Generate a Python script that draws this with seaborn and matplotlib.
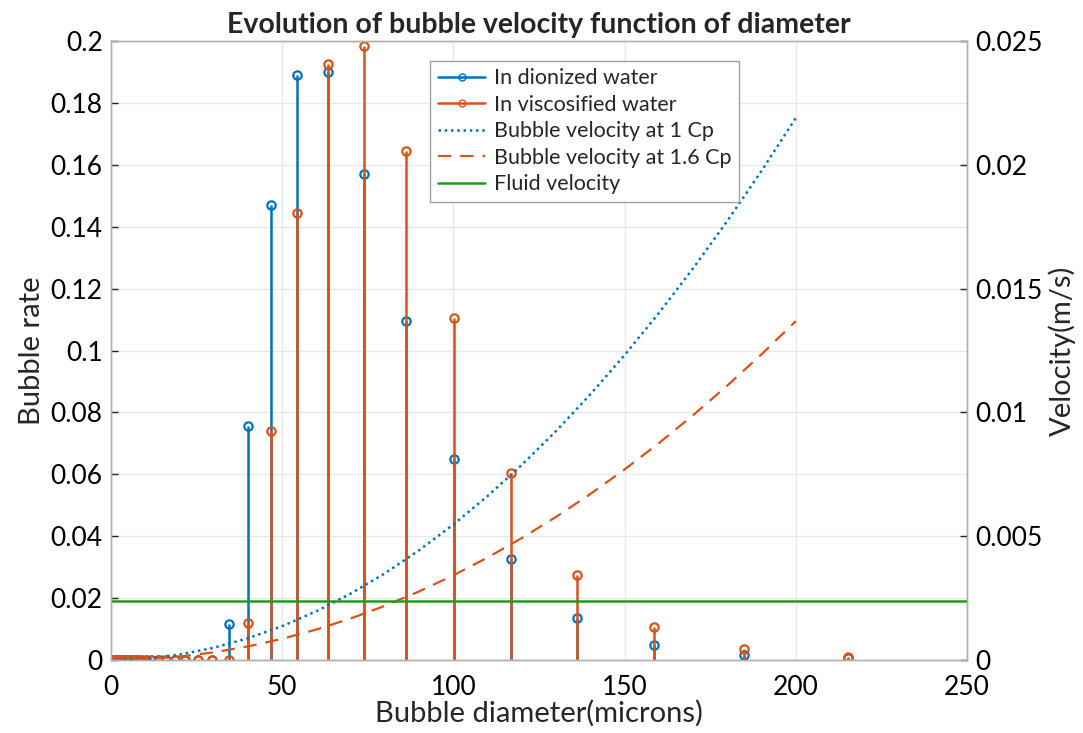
import numpy as np
import pandas as pd
import matplotlib
matplotlib.use("Agg")
import matplotlib.pyplot as plt
import seaborn as sns
from matplotlib.lines import Line2D

# bin centres (microns) and bubble rates
diameter = [0.5, 0.6, 0.7, 0.8, 1.0, 1.2, 1.4, 1.6, 1.9, 2.2, 2.6, 3.0, 3.5,
            4.0, 4.7, 5.5, 6.4, 7.5, 8.7, 10.1, 11.8, 13.7, 16.0, 18.7, 21.7,
            25.3, 29.5, 34.4, 40.1, 46.7, 54.4, 63.4, 73.8, 86.0, 100.2,
            116.8, 136.1, 158.5, 184.7, 215.2]
rate_dionized = [0] * 27 + [0.0115, 0.0755, 0.147, 0.189, 0.190, 0.157,
                            0.1095, 0.065, 0.0325, 0.0135, 0.005, 0.0015, 0.0005]
rate_viscous = [0] * 27 + [0.0, 0.012, 0.074, 0.1445, 0.1925, 0.1985,
                           0.1645, 0.1105, 0.0605, 0.0275, 0.0105, 0.0035, 0.001]

# velocity curves (m/s) read at 10 micron steps
d_curve = [0, 10, 20, 30, 40, 50, 60, 70, 80, 90, 100, 110, 120, 130, 140,
           150, 160, 170, 180, 190, 200]
v_1cp = [0.0, 0.0000548, 0.000219, 0.000493, 0.000876, 0.001369, 0.001971,
         0.002683, 0.003504, 0.004435, 0.005475, 0.006625, 0.007884, 0.009253,
         0.010731, 0.012319, 0.014016, 0.015823, 0.017739, 0.019765, 0.0219]
v_16cp = [0.0, 0.0000342, 0.000137, 0.000308, 0.000548, 0.000856, 0.001232,
          0.001677, 0.002190, 0.002772, 0.003422, 0.004141, 0.004928, 0.005783,
          0.006707, 0.007699, 0.008760, 0.009889, 0.011087, 0.012353, 0.013688]
fluid_velocity = 0.00238

BLUE = "#0072BD"
ORANGE = "#D95319"
GREEN = "#1f9a1f"

sns.set_theme(style="whitegrid")
plt.rcParams['font.family'] = ['Lato', 'DejaVu Sans']

fig = plt.figure(figsize=(10.83, 7.33), dpi=100)
ax = fig.add_axes([0.1025, 0.0996, 0.7905, 0.8444])
ax.set_facecolor("white")

for rates, col in [(rate_dionized, BLUE), (rate_viscous, ORANGE)]:
    ml, sl, bl = ax.stem(diameter, rates, basefmt=" ")
    plt.setp(sl, color=col, linewidth=1.8)
    plt.setp(ml, color=col, markerfacecolor="none", markeredgewidth=1.6,
             markersize=6)

ax.set_xlim(0, 250)
ax.set_ylim(0, 0.2)
ax.set_xticks(np.arange(0, 251, 50))
ax.set_yticks(np.arange(0, 0.201, 0.02))
ax.set_yticklabels(["0"] + [f"{v:g}" for v in np.arange(0.02, 0.201, 0.02)])
ax.grid(True, color="#e8e8e8", linewidth=1)
ax.set_xlabel("Bubble diameter(microns)", fontsize=21, labelpad=0)
ax.set_ylabel("Bubble rate", fontsize=21, labelpad=4)
ax.set_title("Evolution of bubble velocity function of diameter",
             fontsize=20.5, fontweight="bold", pad=6)

ax2 = ax.twinx()
curves = pd.DataFrame({"d": d_curve, "v1": v_1cp, "v16": v_16cp})
sns.lineplot(data=curves, x="d", y="v1", ax=ax2, color=BLUE,
             linestyle=(0, (1, 1.5)), linewidth=1.8)
sns.lineplot(data=curves, x="d", y="v16", ax=ax2, color=ORANGE,
             linestyle=(0, (6, 4)), linewidth=1.6)
ax2.axhline(fluid_velocity, color=GREEN, linewidth=1.8)
ax2.set_ylim(0, 0.025)
ax2.set_yticks(np.arange(0, 0.0251, 0.005))
ax2.set_yticklabels(["0", "0.005", "0.01", "0.015", "0.02", "0.025"])
ax2.grid(False)
ax2.set_xlabel("")
ax2.set_ylabel("Velocity(m/s)", fontsize=21, labelpad=4)

for a in (ax, ax2):
    a.tick_params(direction="in", length=5, width=1, colors="#262626",
                  labelsize=19, pad=6)
    for s in a.spines.values():
        s.set_color("#b0b0b0")
        s.set_linewidth(1)
ax.tick_params(axis="x", pad=11)
ax2.tick_params(labelcolor="black")
ax.tick_params(labelcolor="black")

handles = [
    Line2D([], [], color=BLUE, lw=1.8, marker="o",
           markerfacecolor="none", markersize=5),
    Line2D([], [], color=ORANGE, lw=1.8, marker="o",
           markerfacecolor="none", markersize=5),
    Line2D([], [], color=BLUE, lw=1.8, linestyle=(0, (1, 1.5))),
    Line2D([], [], color=ORANGE, lw=1.6, linestyle=(0, (6, 4))),
    Line2D([], [], color=GREEN, lw=1.8),
]
labels = ["In dionized water", "In viscosified water",
          "Bubble velocity at 1 Cp", "Bubble velocity at 1.6 Cp",
          "Fluid velocity"]
leg = ax2.legend(handles, labels, loc="upper left",
                 bbox_to_anchor=(0.373, 0.968), fontsize=15.5, frameon=True,
                 fancybox=False, edgecolor="#a0a0a0", framealpha=1,
                 handlelength=2.2, handletextpad=0.4, borderpad=0.35,
                 labelspacing=0.3, borderaxespad=0)
leg.get_frame().set_linewidth(1)

fig.savefig("out.png", dpi=100)
